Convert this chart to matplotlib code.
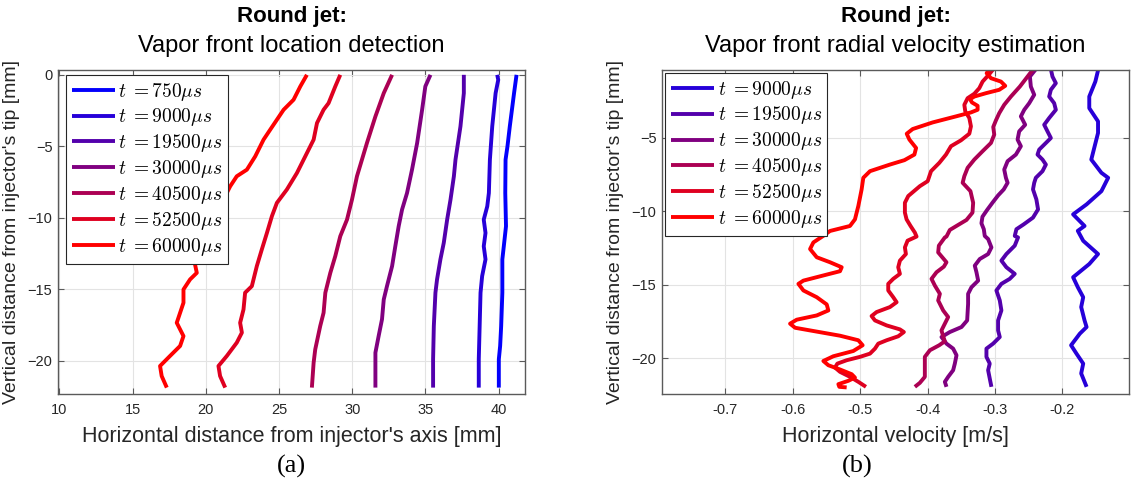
import numpy as np
import matplotlib
matplotlib.use("Agg")
import matplotlib.pyplot as plt

plt.rcParams["font.family"] = ["Liberation Sans", "DejaVu Sans"]
plt.rcParams["mathtext.fontset"] = "cm"

# ---- (a) vapor front location, x [mm] vs y [mm] ----
loc_times = [750, 9000, 19500, 30000, 40500, 52500, 60000]

loc_y_750 = [0, -1.28, -3.6, -5.0, -5.93, -8.26, -10.58, -11.98, -12.9, -15.23, -17.56, -18.95, -19.88, -21.86]
loc_x_750 = [41.22, 41.05, 40.76, 40.6, 40.47, 40.45, 40.5, 40.35, 40.25, 40.25, 40.17, 40.1, 40.01, 40.01]

loc_y_9000 = [0, -0.35, -1.28, -3.6, -5.93, -8.26, -9.19, -10.12, -11.05, -11.98, -12.9, -14.07, -15.23, -17.56, -19.88, -21.86]
loc_x_9000 = [39.9, 39.97, 39.79, 39.56, 39.4, 39.33, 39.22, 38.98, 39.1, 38.98, 39.1, 38.87, 38.76, 38.7, 38.64, 38.64]

loc_y_19500 = [0, -1.28, -3.6, -5.93, -7.09, -8.72, -10.12, -11.74, -12.9, -14.3, -15.23, -17.56, -19.88, -21.86]
loc_x_19500 = [37.62, 37.62, 37.39, 37.05, 36.94, 36.71, 36.48, 36.25, 36.02, 35.79, 35.68, 35.57, 35.52, 35.52]

loc_y_30000 = [0, -0.81, -2.44, -4.77, -6.63, -8.26, -9.42, -10.58, -11.98, -13.37, -14.77, -15.7, -17.09, -18.26, -19.42, -21.86]
loc_x_30000 = [35.34, 34.99, 34.77, 34.43, 34.08, 33.74, 33.40, 33.17, 32.94, 32.72, 32.37, 32.15, 32.03, 31.80, 31.58, 31.58]

loc_y_40500 = [0, -1.28, -2.91, -4.77, -5.93, -7.09, -8.72, -10.12, -11.28, -12.67, -13.84, -15.23, -16.63, -17.56, -19.19, -20.12, -21.86]
loc_x_40500 = [32.72, 32.15, 31.58, 31.0, 30.66, 30.32, 29.98, 29.64, 29.18, 28.84, 28.5, 28.16, 28.04, 27.81, 27.47, 27.36, 27.24]

loc_y_52500 = [0, -0.81, -1.98, -2.44, -3.37, -4.53, -5.47, -6.86, -8.02, -8.95, -9.88, -11.05, -12.21, -13.37,
               -14.77, -15.23, -16.4, -17.33, -18.02, -18.72, -19.65, -20.35, -21.05, -21.86]
loc_x_52500 = [29.18, 28.84, 28.38, 28.04, 27.59, 27.36, 26.90, 26.22, 25.53, 24.85, 24.51, 24.17, 23.82, 23.48,
               23.14, 22.68, 22.57, 22.34, 22.46, 22.11, 21.43, 20.86, 20.97, 21.32]

loc_y_60000 = [0, -0.81, -1.74, -2.44, -3.14, -3.84, -4.53, -5.70, -6.63, -7.09, -7.79, -8.72, -10.12, -11.74,
               -12.91, -13.26, -13.84, -14.3, -15.0, -15.93, -17.33, -18.26, -18.95, -19.65, -20.35, -21.05, -21.86]
loc_x_60000 = [26.90, 26.45, 25.99, 25.31, 24.85, 24.39, 23.94, 23.37, 22.80, 22.11, 21.66, 21.20, 20.5, 19.8,
               19.38, 19.26, 19.38, 18.92, 18.47, 18.47, 18.01, 18.47, 18.24, 17.55, 16.87, 16.98, 17.33]

loc_x = [loc_x_750, loc_x_9000, loc_x_19500, loc_x_30000, loc_x_40500, loc_x_52500, loc_x_60000]
loc_y = [loc_y_750, loc_y_9000, loc_y_19500, loc_y_30000, loc_y_40500, loc_y_52500, loc_y_60000]

# ---- (b) radial velocity [m/s] vs y [mm] ----
vel_times = [9000, 19500, 30000, 40500, 52500, 60000]

vel_y_9000 = [-0.40, -1.16, -2.18, -2.97, -3.87, -4.66, -5.56, -6.47, -7.37, -7.71, -8.62, -9.52, -10.20, -10.99,
              -11.32, -12.0, -12.90, -13.58, -14.48, -15.16, -15.84, -16.51, -17.42, -17.87, -18.32, -19.11,
              -19.68, -20.36, -21.03, -21.94]
vel_x_9000 = [-0.147, -0.151, -0.160, -0.160, -0.147, -0.147, -0.152, -0.157, -0.142, -0.132, -0.142, -0.164,
              -0.184, -0.167, -0.177, -0.169, -0.147, -0.160, -0.184, -0.177, -0.169, -0.172, -0.167, -0.164,
              -0.174, -0.187, -0.179, -0.169, -0.172, -0.164]

vel_y_19500 = [-0.32, -0.82, -1.27, -1.72, -2.18, -2.63, -3.08, -3.64, -4.10, -4.55, -5.00, -5.34, -5.79, -6.13,
               -6.47, -6.81, -7.26, -7.71, -8.05, -8.50, -9.18, -9.86, -10.42, -10.88, -11.21, -11.67, -11.77,
               -12.33, -12.90, -13.35, -13.80, -14.25, -14.59, -14.93, -15.38, -16.06, -16.74, -17.42, -18.10,
               -18.55, -19.00, -19.34, -19.90, -20.36, -20.81, -21.37, -21.94]
vel_x_19500 = [-0.2170, -0.2146, -0.2096, -0.2170, -0.2195, -0.2121, -0.2096, -0.2195, -0.2269, -0.2220,
               -0.2170, -0.2244, -0.2343, -0.2368, -0.2294, -0.2244, -0.2294, -0.2393, -0.2417, -0.2435,
               -0.2385, -0.2360, -0.2435, -0.2573, -0.2681, -0.2706, -0.2657, -0.2706, -0.2830, -0.2904,
               -0.2830, -0.2706, -0.2780, -0.2904, -0.2978, -0.2928, -0.2904, -0.2953, -0.2953, -0.2928,
               -0.3027, -0.3126, -0.3126, -0.3077, -0.3101, -0.3077, -0.3052]

vel_y_30000 = [-0.32, -0.82, -1.50, -2.06, -2.63, -3.08, -3.53, -4.10, -4.55, -5.11, -5.56, -6.13, -6.58, -7.15,
               -7.71, -8.05, -8.50, -8.91, -9.41, -9.90, -10.36, -10.81, -11.21, -11.67, -11.88, -12.45, -12.90,
               -13.24, -13.69, -14.14, -14.71, -15.16, -15.61, -16.29, -17.42, -17.87, -18.21, -18.55, -19.00,
               -19.34, -19.79, -20.36, -20.81, -21.26, -21.60, -21.94]
vel_x_30000 = [-0.2393, -0.2481, -0.2467, -0.2417, -0.2491, -0.2565, -0.2615, -0.2551, -0.2640, -0.2664,
               -0.2615, -0.2689, -0.2812, -0.2862, -0.2837, -0.2812, -0.2869, -0.2953, -0.3037, -0.3116,
               -0.3185, -0.3200, -0.3165, -0.3151, -0.3101, -0.3052, -0.3101, -0.3225, -0.3299, -0.3274,
               -0.3249, -0.3348, -0.3398, -0.3398, -0.3412, -0.3496, -0.3669, -0.3793, -0.3719, -0.3620,
               -0.3570, -0.3595, -0.3620, -0.3694, -0.3743, -0.3719]

vel_y_40500 = [-0.32, -0.82, -1.50, -2.18, -2.74, -3.31, -3.80, -4.25, -4.77, -5.34, -5.90, -6.47, -7.03, -7.60,
               -8.05, -8.62, -9.41, -10.08, -10.58, -10.92, -11.26, -11.71, -11.77, -12.33, -12.79, -13.46,
               -13.76, -14.14, -14.59, -15.05, -15.61, -16.06, -16.74, -17.19, -17.64, -18.10, -18.50, -18.84,
               -19.11, -19.45, -19.90, -20.58, -21.26, -21.67, -21.94]
vel_x_40500 = [-0.2432, -0.2516, -0.2630, -0.2763, -0.2862, -0.2936, -0.2985, -0.3025, -0.3010, -0.3059,
               -0.3183, -0.3306, -0.3405, -0.3454, -0.3479, -0.3363, -0.3323, -0.3333, -0.3422, -0.3546,
               -0.3669, -0.3719, -0.3743, -0.3832, -0.3842, -0.3719, -0.3758, -0.3867, -0.3941, -0.3891,
               -0.3817, -0.3842, -0.3768, -0.3694, -0.3743, -0.3793, -0.3768, -0.3743, -0.3827, -0.3965,
               -0.4040, -0.4040, -0.4040, -0.4114, -0.4188]

vel_y_52500 = [-0.32, -0.71, -1.16, -1.61, -1.99, -2.29, -2.74, -3.19, -3.64, -4.21, -4.71, -5.16, -5.56, -6.13,
               -6.69, -7.26, -7.94, -8.28, -8.95, -9.41, -10.08, -10.54, -10.99, -11.44, -11.71, -11.99, -12.45,
               -12.90, -13.35, -13.80, -14.25, -14.59, -14.93, -15.38, -15.84, -16.18, -16.51, -16.85, -17.12,
               -17.42, -17.76, -18.03, -18.21, -18.50, -18.77, -19.00, -19.34, -19.68, -19.90, -20.13, -20.36,
               -20.63, -20.92, -21.26, -21.60, -21.94]
vel_x_52500 = [-0.3025, -0.3094, -0.3183, -0.3232, -0.3306, -0.3405, -0.3454, -0.3440, -0.3380, -0.3356,
               -0.3380, -0.3504, -0.3652, -0.3726, -0.3825, -0.3948, -0.3998, -0.4114, -0.4286, -0.4336,
               -0.4336, -0.4311, -0.4252, -0.4188, -0.4163, -0.4296, -0.4336, -0.4321, -0.4410, -0.4435,
               -0.4410, -0.4509, -0.4583, -0.4583, -0.4509, -0.4459, -0.4558, -0.4756, -0.4830, -0.4780,
               -0.4607, -0.4410, -0.4351, -0.4435, -0.4607, -0.4731, -0.4780, -0.4854, -0.5002, -0.5200,
               -0.5338, -0.5373, -0.5299, -0.5151, -0.5027, -0.4914]

vel_y_60000 = [-0.32, -0.59, -0.93, -1.16, -1.45, -1.72, -1.95, -2.18, -2.36, -2.58, -2.81, -3.08, -3.26, -3.53,
               -3.94, -4.39, -4.71, -5.11, -5.68, -6.13, -6.51, -6.81, -7.26, -7.71, -8.50, -9.63, -10.54,
               -10.99, -11.33, -11.66, -12.11, -12.56, -13.12, -13.46, -13.80, -14.07, -14.30, -14.71, -14.93,
               -15.38, -15.84, -16.33, -16.74, -17.08, -17.37, -17.64, -17.92, -18.14, -18.46, -18.77, -19.11,
               -19.50, -19.86, -20.18, -20.47, -20.76, -21.08, -21.31, -21.53, -21.76, -21.94, -21.98]
vel_x_60000 = [-0.3084, -0.3123, -0.3059, -0.2911, -0.2847, -0.2936, -0.3133, -0.3306, -0.3370, -0.3341,
               -0.3257, -0.3257, -0.3356, -0.3578, -0.3923, -0.4220, -0.4309, -0.4269, -0.4170, -0.4195,
               -0.4343, -0.4558, -0.4854, -0.4953, -0.4978, -0.5027, -0.5077, -0.5151, -0.5447, -0.5546,
               -0.5694, -0.5743, -0.5644, -0.5447, -0.5274, -0.5299, -0.5496, -0.5842, -0.5916, -0.5842,
               -0.5644, -0.5496, -0.5472, -0.5644, -0.5941, -0.6040, -0.5965, -0.5694, -0.5299, -0.5027,
               -0.4963, -0.5101, -0.5398, -0.5546, -0.5472, -0.5299, -0.5126, -0.5077, -0.5175, -0.5323,
               -0.5309, -0.5200]

vel_x = [vel_x_9000, vel_x_19500, vel_x_30000, vel_x_40500, vel_x_52500, vel_x_60000]
vel_y = [vel_y_9000, vel_y_19500, vel_y_30000, vel_y_40500, vel_y_52500, vel_y_60000]

loc_xticks = [10, 15, 20, 25, 30, 35, 40]
loc_yticks = [0, -5, -10, -15, -20]
vel_xticks = [-0.7, -0.6, -0.5, -0.4, -0.3, -0.2]
vel_yticks = [-5, -10, -15, -20]

t_max = 60000.0


def time_color(t):
    f = t / t_max
    return (f, 0.0, 1.0 - f)


def style_axes(ax):
    ax.grid(True, color="#e3e3e3", linewidth=0.8)
    ax.set_axisbelow(True)
    for sp in ax.spines.values():
        sp.set_color("#5a5a5a")
        sp.set_linewidth(1.0)
    ax.tick_params(direction="in", length=4, width=0.8, color="#5a5a5a",
                   top=True, right=True, labelsize=10.5, labelcolor="#262626")
    ax.tick_params(axis="x", pad=6)
    ax.tick_params(axis="y", pad=4)


fig = plt.figure(figsize=(11.33, 4.98), dpi=100)
ax1 = fig.add_axes([0.0512, 0.2082, 0.4122, 0.6516])
ax2 = fig.add_axes([0.5843, 0.2082, 0.4122, 0.6516])

for t, xs, ys in zip(loc_times, loc_x, loc_y):
    ax1.plot(xs, ys, color=time_color(t), lw=2.8, solid_capstyle="butt", solid_joinstyle="round",
             label=r"$t\;{=}%d\mu s$" % t)

for t, xs, ys in zip(vel_times, vel_x, vel_y):
    ax2.plot(xs, ys, color=time_color(t), lw=2.8, solid_capstyle="butt", solid_joinstyle="round",
             label=r"$t\;{=}%d\mu s$" % t)

ax1.set_xlim(9.9, 41.8)
ax1.set_ylim(-22.33, 0.35)
ax1.set_xticks(loc_xticks)
ax1.set_yticks(loc_yticks)
ax2.set_xlim(-0.794, -0.101)
ax2.set_ylim(-22.45, -0.36)
ax2.set_xticks(vel_xticks)
ax2.set_yticks(vel_yticks)
ax2.set_xticklabels(["%g" % v for v in vel_xticks])

titles = ["Vapor front location detection", "Vapor front radial velocity estimation"]
xlabels = ["Horizontal distance from injector's axis [mm]", "Horizontal velocity [m/s]"]
anchors = [(0.017, 0.985), (0.0064, 0.991)]

for ax, title, xl, anc in zip([ax1, ax2], titles, xlabels, anchors):
    style_axes(ax)
    ax.text(0.5, 1.165, "Round jet:", transform=ax.transAxes, ha="center", va="center",
            fontsize=16, fontweight="bold")
    ax.text(0.5, 1.072, title, transform=ax.transAxes, ha="center", va="center", fontsize=17)
    ax.set_xlabel(xl, fontsize=15.5, va="center", color="#262626")
    ax.xaxis.set_label_coords(0.5, -0.13)
    ax.set_ylabel("Vertical distance from injector's tip [mm]", fontsize=14, va="center", color="#262626")
    ax.yaxis.set_label_coords(-0.099, 0.5)
    leg = ax.legend(loc="upper left", bbox_to_anchor=anc, borderaxespad=0, fontsize=14,
                    fancybox=False, framealpha=1, edgecolor="#262626", handlelength=2.2,
                    handletextpad=0.2, labelspacing=0.2, borderpad=0.3)
    leg.get_frame().set_linewidth(0.8)

fig.text(0.2568, 0.064, "(a)", fontsize=19, ha="center", va="center", family="Liberation Serif")
fig.text(0.757, 0.064, "(b)", fontsize=19, ha="center", va="center", family="Liberation Serif")

fig.savefig("out.png", dpi=100)
